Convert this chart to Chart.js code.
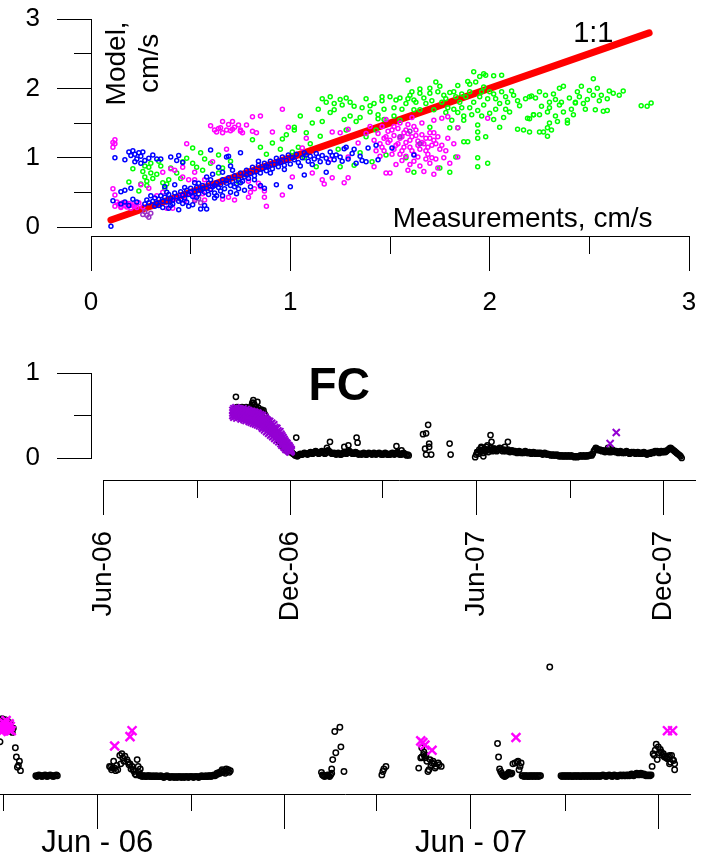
<!DOCTYPE html>
<html>
<head>
<meta charset="utf-8">
<title>Model vs measurements, FC</title>
<script src="https://cdn.jsdelivr.net/npm/chart.js@4.4.1/dist/chart.umd.min.js"></script>
<style>
  html, body { margin: 0; padding: 0; background: #fff; }
  #wrap { position: relative; width: 711px; height: 861px; overflow: hidden; }
  canvas { position: absolute; left: 0; }
</style>
</head>
<body>
<div id="wrap">
  <canvas id="scatter" width="711" height="330" style="top:0"></canvas>
  <canvas id="fc" width="711" height="310" style="top:330px"></canvas>
  <canvas id="site" width="711" height="221" style="top:640px"></canvas>
</div>
<script>
// ---------- top panel: model vs measurements (cm/s) ----------
const oneToOne = [[0.1, 0.1], [2.8, 2.8]];

const greenPts = [
  [0.19,0.65],[0.21,0.84],[0.24,0.52],[0.25,0.62],[0.26,0.80],[0.27,0.72],[0.27,0.88],[0.28,0.66],[0.28,0.60],[0.29,0.86],
  [0.30,0.78],[0.30,0.92],[0.31,0.70],[0.33,0.76],[0.34,0.95],[0.35,0.88],[0.36,0.64],[0.37,0.55],[0.38,0.62],[0.39,0.68],
  [0.40,0.85],[0.43,0.78],[0.45,0.70],[0.46,0.94],[0.48,0.99],[0.51,0.92],[0.51,1.14],[0.53,0.86],[0.55,1.07],[0.56,0.82],
  [0.57,0.98],[0.60,0.92],[0.64,1.04],[0.64,0.78],[0.66,0.85],[0.70,0.95],[0.74,0.65],
  [0.81,1.26],[0.85,1.15],[0.88,1.05],[0.91,1.21],[0.95,1.12],[0.96,1.27],[0.98,1.33],[1.01,1.08],[1.02,1.40],[1.02,1.44],
  [1.04,1.15],[1.05,1.60],[1.07,1.00],[1.08,1.36],[1.10,1.20],[1.11,1.50],[1.13,0.87],[1.14,1.70],[1.15,1.31],[1.16,1.52],
  [1.16,1.85],[1.18,1.80],[1.20,1.88],[1.20,1.65],[1.22,1.78],[1.22,1.69],[1.24,1.12],[1.25,1.84],[1.25,0.87],[1.26,1.76],
  [1.27,1.55],[1.28,1.86],[1.28,1.40],[1.30,1.80],[1.30,1.60],[1.32,1.74],[1.32,0.89],[1.33,1.52],[1.35,1.58],[1.35,1.07],
  [1.36,1.72],[1.38,1.85],[1.38,1.30],[1.40,1.66],[1.41,0.94],[1.42,1.78],[1.43,1.40],[1.44,1.56],[1.46,1.88],[1.47,1.70],
  [1.48,1.04],[1.46,1.82],[1.47,1.55],[1.50,1.88],[1.52,1.60],[1.53,1.83],[1.55,1.54],[1.56,1.70],[1.58,1.78],[1.58,1.00],
  [1.59,1.85],[1.59,2.12],[1.61,1.95],[1.62,1.83],[1.62,1.69],[1.62,0.79],[1.65,1.99],[1.65,1.93],[1.65,1.69],[1.68,1.78],
  [1.70,1.93],[1.70,2.00],[1.70,1.44],[1.72,1.69],[1.73,2.09],[1.75,2.03],[1.75,0.85],[1.76,1.80],[1.77,1.90],[1.79,1.72],
  [1.80,1.94],[1.80,1.43],[1.80,0.79],[1.81,1.54],[1.83,1.88],[1.83,1.01],[1.84,2.04],[1.84,1.65],[1.84,1.43],[1.86,1.92],
  [1.86,1.72],[1.87,1.60],[1.87,1.54],[1.87,1.23],[1.89,2.10],[1.89,1.23],[1.90,2.06],[1.91,1.62],[1.92,2.24],[1.93,2.09],
  [1.94,1.68],[1.94,1.47],[1.94,1.37],[1.94,1.28],[1.94,1.00],[1.94,0.87],[1.95,2.17],[1.96,1.95],[1.97,2.21],[1.97,1.76],
  [1.98,2.19],[1.98,1.30],[1.99,1.85],[1.99,0.92],[2.00,1.64],[2.02,2.18],[2.02,1.92],[2.03,1.70],[2.05,1.78],[2.05,1.44],
  [2.06,2.19],[2.07,1.58],[2.08,1.88],[2.10,1.66],[2.11,1.96],[2.14,1.82],[2.14,1.41],[2.17,1.40],[2.19,1.57],[2.20,1.88],
  [2.20,1.56],[2.20,1.37],[2.21,1.89],[2.22,1.62],[2.22,1.62],[2.23,1.86],[2.25,1.95],[2.25,1.62],[2.25,1.37],[2.26,1.74],
  [2.27,1.37],[2.28,1.90],[2.29,1.66],[2.29,1.43],[2.29,1.31],[2.30,1.80],[2.30,1.50],[2.31,1.40],[2.32,1.92],[2.33,1.84],
  [2.34,1.52],[2.35,2.00],[2.35,1.76],[2.37,2.03],[2.37,1.66],[2.39,1.54],[2.39,1.50],[2.40,1.86],[2.41,1.70],[2.43,1.80],
  [2.43,1.79],[2.44,1.95],[2.45,1.88],[2.46,2.03],[2.48,1.70],[2.49,1.84],[2.50,1.97],[2.52,2.14],[2.52,1.90],[2.53,1.69],
  [2.54,2.00],[2.55,1.82],[2.57,1.67],[2.59,1.85],[2.59,1.68],[2.60,1.96],[2.62,1.93],[2.65,1.90],[2.67,1.96],[2.76,1.75],
  [2.79,1.74],[2.81,1.79],
  [1.60,1.90],[1.63,1.80],[1.67,1.86],[1.71,1.82],[1.74,1.95],[1.78,1.85],[1.82,1.95],[1.85,1.80],[1.88,1.88],[1.90,1.95],
  [1.92,1.80],[1.95,1.88],[1.97,2.02],[2.00,1.95],[2.03,1.85],[2.06,1.95],[2.09,1.80],[2.12,1.90],[2.15,1.75],[2.18,1.85],
  [1.78,1.65],[1.82,1.70],[1.90,1.72],[1.96,1.60],[2.02,1.55],[2.08,1.70],[1.52,1.72],[1.55,1.86],[1.40,1.75],[1.44,1.62],
  [2.30,1.72],[2.36,1.80],[2.42,1.62],[2.47,1.78],[2.56,1.90],[2.33,1.60]
];

const magentaPts = [
  [0.11,1.15],[0.12,1.20],[0.12,1.26],[0.11,1.22],[0.11,0.55],[0.12,0.46],[0.12,0.30],[0.13,0.36],[0.14,0.33],[0.15,0.28],
  [0.16,0.35],[0.17,0.31],[0.18,0.29],[0.19,0.34],[0.20,0.27],[0.21,0.32],[0.22,0.30],[0.23,0.28],[0.24,0.35],[0.26,0.29],
  [0.25,0.61],[0.29,0.56],[0.33,0.45],[0.36,0.50],[0.36,0.79],[0.38,0.27],[0.40,0.84],[0.41,0.27],[0.42,0.82],[0.42,0.40],
  [0.45,0.45],[0.46,0.72],[0.46,0.86],[0.47,0.38],[0.48,1.20],[0.49,0.68],[0.50,0.48],[0.52,0.79],[0.52,0.68],[0.52,0.42],
  [0.52,0.39],[0.56,0.48],[0.57,0.68],[0.57,0.39],[0.60,1.46],[0.60,0.55],[0.61,0.94],[0.63,1.37],[0.64,1.42],[0.66,1.36],
  [0.66,1.52],[0.66,0.40],[0.68,1.40],[0.68,1.12],[0.69,1.48],[0.69,0.43],[0.70,1.39],[0.71,1.52],[0.72,1.44],[0.72,0.39],
  [0.74,1.47],[0.75,1.40],[0.75,1.38],[0.76,1.36],[0.78,1.47],[0.79,0.66],[0.79,0.43],[0.80,0.50],[0.81,1.59],[0.81,1.38],
  [0.82,0.55],[0.83,1.36],[0.84,0.63],[0.85,1.60],[0.85,0.58],[0.87,0.52],[0.87,0.43],[0.88,0.30],[0.91,1.37],[0.96,1.70],
  [0.96,0.46],[0.99,1.44],[1.01,0.72],[1.06,1.14],[1.08,1.28],[1.11,0.78],[1.16,0.68],[1.17,0.62],[1.20,0.97],[1.21,1.37],
  [1.21,0.71],[1.25,1.36],[1.27,0.64],[1.29,1.41],[1.29,1.01],[1.29,0.71],[1.34,1.21],[1.38,1.35],[1.40,1.45],[1.42,1.25],
  [1.42,0.87],[1.44,1.35],[1.45,1.20],[1.45,1.02],[1.46,1.45],[1.47,1.10],[1.48,1.30],[1.48,1.55],[1.48,0.78],[1.49,1.38],
  [1.50,1.25],[1.50,0.78],[1.51,1.05],[1.52,1.32],[1.53,1.18],[1.53,0.90],[1.54,1.42],[1.55,1.28],[1.55,1.50],[1.56,1.10],
  [1.56,0.96],[1.57,1.36],[1.58,1.22],[1.58,1.02],[1.59,1.48],[1.59,0.82],[1.60,1.15],[1.61,1.30],[1.61,1.58],[1.62,1.05],
  [1.62,0.95],[1.63,1.40],[1.64,1.24],[1.64,1.01],[1.65,1.12],[1.65,0.88],[1.66,1.33],[1.66,1.50],[1.67,1.20],[1.67,0.80],
  [1.68,1.28],[1.69,1.05],[1.69,1.15],[1.70,1.36],[1.70,0.92],[1.71,1.18],[1.72,1.25],[1.72,1.36],[1.72,1.54],[1.72,0.76],
  [1.73,0.98],[1.74,1.30],[1.74,0.85],[1.76,1.18],[1.76,1.57],[1.77,1.00],[1.78,1.10],[1.79,1.28],[1.79,1.59],[1.80,0.92],
  [1.82,1.20],[1.84,1.01],[1.84,1.43],[1.99,1.57],
  [1.46,1.15],[1.49,1.22],[1.51,1.40],[1.52,1.12],[1.54,1.20],[1.56,1.30],[1.57,1.15],[1.59,1.35],[1.60,1.25],[1.61,1.10],
  [1.63,1.32],[1.64,1.18],[1.66,1.22],[1.68,1.10],[1.70,1.28],[1.71,1.00],[1.73,1.20],[1.75,1.12],[1.52,1.45],[1.58,1.40],
  [1.62,1.45],[1.47,1.28],[1.55,1.05],[1.68,0.98],[1.60,0.90],[1.43,1.10],[0.15,0.30],[0.18,0.34],[0.20,0.31],[0.65,1.43],
  [0.71,1.41],[0.62,1.40]
];

const purplePts = [
  [0.26,0.18],[0.27,0.22],[0.28,0.17],[0.29,0.14],[0.30,0.20],[0.52,0.38],[0.54,0.41],[0.55,0.35],[1.55,1.30],[1.60,1.38],[1.65,1.20]
];

const bluePts = [
  [0.10,0.01],[0.11,0.38],[0.12,1.00],[0.15,0.51],[0.15,0.33],[0.17,0.53],[0.17,0.36],[0.17,0.97],[0.19,1.08],[0.19,0.31],
  [0.20,1.03],[0.20,0.56],[0.21,1.10],[0.21,0.40],[0.22,1.05],[0.22,0.94],[0.23,0.98],[0.23,0.36],[0.24,1.07],[0.25,1.02],
  [0.25,0.92],[0.26,1.08],[0.27,0.96],[0.29,0.99],[0.31,1.04],[0.33,0.98],[0.35,0.98],[0.40,1.01],[0.43,0.96],[0.44,1.03],
  [0.46,0.93],[0.60,1.11],[0.68,1.01],[0.69,1.02],[0.75,1.07],
  [0.27,0.33],[0.28,0.39],[0.29,0.35],[0.31,0.37],[0.32,0.42],[0.32,0.30],[0.33,0.34],[0.34,0.40],[0.35,0.45],[0.36,0.37],
  [0.36,0.28],[0.37,0.43],[0.37,0.58],[0.38,0.36],[0.39,0.47],[0.40,0.41],[0.40,0.31],[0.41,0.39],[0.42,0.49],[0.42,0.61],
  [0.43,0.44],[0.44,0.37],[0.44,0.25],[0.45,0.51],[0.46,0.46],[0.46,0.34],[0.47,0.42],[0.48,0.53],[0.49,0.47],[0.49,0.30],
  [0.50,0.56],[0.51,0.44],[0.51,0.32],[0.52,0.51],[0.53,0.57],[0.54,0.48],[0.54,0.63],[0.55,0.53],[0.55,0.26],[0.56,0.60],
  [0.57,0.50],[0.58,0.56],[0.58,0.26],[0.58,0.72],[0.59,0.63],[0.60,0.54],[0.61,0.58],[0.61,0.76],[0.62,0.49],[0.62,0.42],
  [0.63,0.64],[0.64,0.57],[0.64,0.86],[0.65,0.61],[0.66,0.68],[0.66,0.79],[0.66,0.45],[0.67,0.55],[0.68,0.63],[0.69,0.71],
  [0.70,0.60],[0.70,0.50],[0.70,0.88],[0.71,0.66],[0.71,0.82],[0.72,0.74],[0.73,0.62],[0.74,0.69],[0.74,0.55],[0.75,0.78],
  [0.76,0.66],[0.77,0.72],[0.77,0.53],[0.78,0.82],[0.79,0.70],[0.80,0.77],[0.80,0.58],[0.81,0.86],[0.82,0.74],[0.83,0.80],
  [0.84,0.89],[0.85,0.78],[0.85,0.60],[0.86,0.84],[0.87,0.92],[0.87,0.56],[0.88,0.81],[0.89,0.87],[0.90,0.95],[0.91,0.84],
  [0.92,0.90],[0.93,0.99],[0.93,0.61],[0.94,0.87],[0.95,0.93],[0.96,1.01],[0.97,0.89],[0.98,0.96],[0.99,1.04],[1.00,0.91],
  [1.00,0.58],[1.02,0.97],[1.03,1.05],[1.04,0.93],[1.06,1.00],[1.07,1.07],[1.07,0.75],[1.09,0.95],[1.10,1.02],[1.12,0.98],
  [1.13,1.06],[1.15,0.94],[1.16,1.03],[1.18,0.99],[1.18,0.79],[1.20,1.08],[1.22,0.97],[1.23,1.04],[1.25,1.01],[1.27,1.13],
  [1.28,1.15],[1.29,0.98],[1.31,1.06],[1.32,1.12],[1.33,0.92],[1.35,1.02],[1.36,0.96],[1.38,0.94],[1.39,1.14],[1.43,1.18],
  [1.44,0.97],[1.51,1.14],[1.62,1.04],
  [0.30,0.45],[0.34,0.31],[0.38,0.50],[0.41,0.33],[0.45,0.40],[0.48,0.36],[0.50,0.50],[0.53,0.43],[0.56,0.55],[0.59,0.47],
  [0.62,0.60],[0.65,0.52],[0.68,0.67],[0.72,0.58],[0.75,0.64],[0.78,0.75],[0.82,0.68],[0.84,0.95],[0.88,0.88],[0.90,0.78],
  [0.94,0.95],[0.97,0.83],[1.01,1.00],[1.05,0.88],[1.08,1.04],[1.11,0.90],[1.14,1.01],[1.19,0.93],[1.21,1.03],[1.26,0.95],
  [0.47,0.57],[0.52,0.64],[0.60,0.68],[0.63,0.45],[0.39,0.27],[0.57,0.31],[0.73,0.48]
];

// ---------- middle panel: FC ----------
const fcMajorTicks = ['2006-06-01', '2006-12-01', '2007-06-01', '2007-12-01'];
const fcMajorLabels = ['Jun-06', 'Dec-06', 'Jun-07', 'Dec-07'];
const fcMinorTicks = ['2006-09-01', '2007-03-01', '2007-09-01'];

const fcModelStartA = '2006-10-08';
const fcModelA = [
  0.58,0.72,0.60,0.57,0.59,0.56,0.58,0.60,0.57,0.55,0.58,0.60,0.59,0.57,0.56,0.58,0.61,0.65,0.68,0.63,0.60,0.58,0.57,0.59,
  0.56,0.55,0.57,0.54,0.56,0.52,0.50,0.47,0.44,0.45,0.41,0.38,0.36,0.33,0.31,0.30,0.27,0.25,0.22,0.20,0.19,0.17,0.15,0.14,0.12,0.11,0.10,0.09,0.08,0.09,
  0.07,0.08,0.06,0.05,0.04,0.03,0.03,0.02,0.03,0.04,0.05,0.04,0.04,0.05,0.06,0.05,0.05,0.04,0.05,0.06,0.07,0.06,0.05,0.06,0.07,0.08,0.07,0.06,0.05,0.06,0.07,
  0.08,0.07,0.06,0.05,0.06,0.08,0.09,0.08,0.07,0.06,0.05,0.05,0.06,0.05,0.04,0.05,0.06,0.05,0.04,0.04,0.05,0.06,0.07,0.06,0.05,0.06,0.07,0.08,0.07,0.06,0.05,
  0.05,0.06,0.07,0.06,0.05,0.04,0.05,0.05,0.04,0.05,0.06,0.05,0.04,0.04,0.05,0.06,0.05,0.05,0.04,0.05,0.06,0.05,0.04,0.05,0.05,0.06,0.05,0.04,
  0.05,0.04,0.05,0.06,0.05,0.04,0.04,0.05,0.04,0.05,0.06,0.05,0.04,0.05,0.06,0.07,0.05,0.04,0.05,0.04,0.05,0.06,0.05,0.04,0.03,0.04,0.03
];
const fcModelStartB = '2007-06-01';
const fcModelB = [
  0.04,0.07,0.05,0.10,0.08,0.12,0.09,0.06,0.11,0.08,0.13,0.10,0.07,0.09,0.12,0.10,0.08,0.09,0.11,0.10,0.08,0.09,0.10,0.12,0.11,0.09,0.08,0.10,0.09,0.08,
  0.09,0.10,0.08,0.07,0.08,0.09,0.08,0.07,0.08,0.07,0.06,0.07,0.08,0.07,0.06,0.07,0.06,0.07,0.08,0.07,0.06,0.06,0.07,0.06,0.05,0.06,0.07,0.06,0.05,0.06,0.05,
  0.06,0.05,0.06,0.05,0.04,0.05,0.06,0.05,0.04,0.05,0.04,0.04,0.03,0.04,0.03,0.04,0.03,0.03,0.04,0.03,0.02,0.03,0.02,0.03,0.02,0.02,0.03,0.02,0.02,0.03,0.02,
  0.02,0.03,0.02,0.02,0.01,0.02,0.02,0.01,0.02,0.02,0.03,0.02,0.02,0.03,0.02,0.02,0.03,0.02,0.03,0.03,0.04,0.03,0.05,0.08,0.10,0.12,0.11,0.10,0.09,0.10,
  0.09,0.08,0.09,0.08,0.07,0.08,0.09,0.08,0.07,0.08,0.07,0.08,0.09,0.08,0.07,0.08,0.07,0.06,0.07,0.08,0.07,0.06,0.07,0.06,0.07,0.08,0.07,0.06,0.05,0.06,0.07,
  0.06,0.07,0.06,0.05,0.06,0.07,0.06,0.05,0.06,0.05,0.06,0.07,0.06,0.05,0.04,0.05,0.06,0.05,0.06,0.07,0.06,0.07,0.08,0.07,0.08,0.07,0.06,0.07,0.08,0.07,
  0.07,0.08,0.07,0.08,0.09,0.10,0.11,0.12,0.11,0.10,0.09,0.08,0.07,0.06,0.05,0.04,0.03,0.02,0.00
];
const fcModelExtra = [
  ['2006-10-26',0.65],['2006-10-30',0.66],['2006-12-07',0.24],['2007-01-06',0.12],['2007-01-09',0.19],['2007-01-23',0.13],
  ['2007-01-27',0.15],['2007-02-04',0.24],['2007-02-05',0.18],['2007-03-15',0.14],['2007-03-20',0.09],
  ['2007-04-10',0.28],['2007-04-12',0.11],['2007-04-13',0.29],['2007-04-13',0.04],['2007-04-15',0.39],['2007-04-16',0.17],
  ['2007-04-16',0.13],['2007-04-18',0.04],['2007-05-06',0.17],['2007-05-07',0.04],
  ['2007-05-31',0.01],['2007-06-02',0.07],['2007-06-06',0.13],['2007-06-08',0.02],['2007-06-09',0.09],['2007-06-12',0.15],
  ['2007-06-15',0.27],['2007-06-16',0.19],['2007-06-18',0.11],['2007-06-29',0.13],['2007-07-02',0.19],
  ['2007-10-08',0.12],['2007-10-12',0.10]
];
const fcModelOutlier = [['2007-03-05', -1.19]];

const fcObsStart = '2006-10-06';
const fcObsHigh = [
  0.56,0.58,0.57,0.59,0.56,0.57,0.58,0.56,0.57,0.55,0.58,0.56,0.55,0.57,0.54,0.56,0.55,0.53,0.55,0.54,0.52,0.54,0.53,0.51,0.53,0.52,
  0.50,0.51,0.49,0.50,0.47,0.48,0.46,0.45,0.44,0.42,0.43,0.40,0.41,0.38,0.39,0.36,0.34,0.35,0.32,0.30,0.31,0.28,0.26,0.24,0.22,0.20,0.18,0.17,0.15,0.14,
  0.12,0.10
];
const fcObsMid = [
  0.53,0.54,0.52,0.55,0.51,0.53,0.54,0.52,0.51,0.52,0.53,0.50,0.51,0.52,0.49,0.51,0.50,0.48,0.49,0.50,0.47,0.48,0.47,0.46,0.47,0.46,
  0.44,0.45,0.43,0.42,0.41,0.40,0.41,0.38,0.37,0.36,0.37,0.34,0.35,0.32,0.33,0.30,0.29,0.28,0.27,0.25,0.26,0.23,0.21,0.20,0.18,0.16,0.14,0.14,0.12,0.11,
  0.10,0.09
];
const fcObsLow = [
  0.50,0.48,0.51,0.49,0.47,0.50,0.48,0.49,0.46,0.48,0.47,0.45,0.47,0.44,0.46,0.45,0.43,0.44,0.42,0.44,0.41,0.43,0.40,0.42,0.39,0.41,
  0.38,0.40,0.37,0.35,0.36,0.33,0.35,0.31,0.32,0.29,0.30,0.27,0.28,0.25,0.26,0.23,0.24,0.21,0.22,0.19,0.20,0.17,0.15,0.16,0.13,0.12,0.10,0.11,0.09,0.08,
  0.07,0.08
];
const fcObsExtra = [['2007-10-10', 0.17], ['2007-10-16', 0.30]];

// ---------- bottom panel ----------
const siteMajorTicks = ['2006-06-01', '2006-12-01', '2007-06-01', '2007-12-01'];
const siteMajorLabels = ['Jun - 06', '', 'Jun - 07', ''];
const siteMinorTicks = ['2006-03-01', '2006-09-01', '2007-03-01', '2007-09-01'];

const siteModelPts = [
  ['2006-02-26',0.45],['2006-02-26',0.70],['2006-02-27',0.66],['2006-02-28',0.72],['2006-03-01',0.63],['2006-03-02',0.68],
  ['2006-03-03',0.71],['2006-03-04',0.65],['2006-03-05',0.70],['2006-03-06',0.58],['2006-03-07',0.62],['2006-03-08',0.67],
  ['2006-03-09',0.60],['2006-03-10',0.56],['2006-03-11',0.61],['2006-03-13',0.38],['2006-03-14',0.27],['2006-03-15',0.15],
  ['2006-03-16',0.17],['2006-03-17',0.22],['2006-03-18',0.11],
  ['2006-06-13',0.16],['2006-06-14',0.15],['2006-06-15',0.12],['2006-06-16',0.14],['2006-06-17',0.22],['2006-06-18',0.14],
  ['2006-06-19',0.11],['2006-06-20',0.17],['2006-06-21',0.12],['2006-06-23',0.29],['2006-06-24',0.19],['2006-06-25',0.31],
  ['2006-06-26',0.26],['2006-06-27',0.22],['2006-06-28',0.28],['2006-06-30',0.24],['2006-07-01',0.21],['2006-07-02',0.18],
  ['2006-07-03',0.19],['2006-07-04',0.13],['2006-07-05',0.16],['2006-07-06',0.12],['2006-07-07',0.10],['2006-07-08',0.07],
  ['2006-07-09',0.06],['2006-07-10',0.24],['2006-07-11',0.16],['2006-07-12',0.09],['2006-07-13',0.13],
  ['2007-01-06',0.09],['2007-01-07',0.06],['2007-01-08',0.05],['2007-01-09',0.04],['2007-01-10',0.05],['2007-01-11',0.05],
  ['2007-01-12',0.06],['2007-01-13',0.05],['2007-01-14',0.04],['2007-01-15',0.06],['2007-01-16',0.08],['2007-01-16',0.13],
  ['2007-01-17',0.24],['2007-01-19',0.57],['2007-01-20',0.32],['2007-01-24',0.62],['2007-01-25',0.39],['2007-01-28',0.10],
  ['2007-03-06',0.06],['2007-03-07',0.10],['2007-03-08',0.13],['2007-03-10',0.16],
  ['2007-04-11',0.14],['2007-04-13',0.26],['2007-04-14',0.38],['2007-04-14',0.27],['2007-04-16',0.33],['2007-04-16',0.30],
  ['2007-04-17',0.26],['2007-04-18',0.29],['2007-04-19',0.22],['2007-04-20',0.10],['2007-04-21',0.12],['2007-04-22',0.24],
  ['2007-04-23',0.17],['2007-04-24',0.20],['2007-04-25',0.22],['2007-04-26',0.19],['2007-04-27',0.14],['2007-04-28',0.16],
  ['2007-04-30',0.20],['2007-05-01',0.18],['2007-05-03',0.16],
  ['2007-06-27',0.43],['2007-06-28',0.27],['2007-06-29',0.13],['2007-06-30',0.10],['2007-07-01',0.08],['2007-07-02',0.06],
  ['2007-07-03',0.05],['2007-07-04',0.04],['2007-07-05',0.05],['2007-07-06',0.06],['2007-07-07',0.07],['2007-07-08',0.09],
  ['2007-07-09',0.08],['2007-07-10',0.07],['2007-07-11',0.08],['2007-07-12',0.19],['2007-07-14',0.20],['2007-07-16',0.21],
  ['2007-07-17',0.22],['2007-07-18',0.12],['2007-07-19',0.16],['2007-07-20',0.20],
  ['2007-08-17',1.33],
  ['2007-11-25',0.16],['2007-11-26',0.31],['2007-11-27',0.29],['2007-11-28',0.35],['2007-11-29',0.42],['2007-11-30',0.24],
  ['2007-12-01',0.39],['2007-12-02',0.32],['2007-12-03',0.36],['2007-12-04',0.33],['2007-12-05',0.29],['2007-12-06',0.31],
  ['2007-12-07',0.27],['2007-12-08',0.28],['2007-12-09',0.26],['2007-12-10',0.25],['2007-12-11',0.27],['2007-12-12',0.29],
  ['2007-12-12',0.19],['2007-12-13',0.21],['2007-12-14',0.29],['2007-12-15',0.24],['2007-12-16',0.23],['2007-12-17',0.19],
  ['2007-12-17',0.12]
];
const siteRunApr06Start = '2006-04-02';
const siteRunApr06 = [0.05,0.04,0.05,0.06,0.05,0.05,0.04,0.05,0.05,0.06,0.05,0.04,0.05,0.05,0.06,0.05,0.05,0.04,0.05,0.05,0.06,0.05];
const siteRunJul06Start = '2006-07-12';
const siteRunJul06 = [
  0.06,0.05,0.05,0.04,0.05,0.05,0.04,0.04,0.05,0.05,0.04,0.05,0.04,0.04,0.05,0.04,0.04,0.05,0.04,0.04,
  0.04,0.05,0.04,0.04,0.03,0.04,0.04,0.05,0.04,0.04,0.03,0.04,0.04,0.04,0.03,0.04,0.04,0.03,0.04,0.04,0.04,0.03,0.04,0.04,0.03,0.04,0.04,0.04,0.03,0.04,0.04,
  0.04,0.04,0.03,0.04,0.04,0.04,0.04,0.03,0.04,0.04,0.05,0.04,0.04,0.04,0.05,0.04,0.04,0.05,0.05,0.04,0.05,0.05,0.06,0.05,0.06,0.08,0.07,0.09,0.08,0.10,
  0.12,0.09,0.11,0.08,0.13,0.10,0.12,0.09,0.11
];
const siteRunJul07Start = '2007-07-21';
const siteRunJul07 = [0.05,0.05,0.04,0.05,0.05,0.04,0.05,0.04,0.05,0.05,0.04,0.05,0.05,0.04,0.05,0.05,0.04,0.05,0.05];
const siteRunAug07Start = '2007-08-28';
const siteRunAug07 = [
  0.05,0.04,0.05,0.05,
  0.04,0.05,0.05,0.04,0.05,0.05,0.04,0.05,0.04,0.05,0.05,0.04,0.05,0.05,0.04,0.05,0.04,0.05,0.05,0.04,0.05,0.05,0.04,0.05,0.05,0.04,0.05,0.05,0.04,0.05,
  0.05,0.04,0.05,0.05,0.04,0.05,0.05,0.06,0.05,0.05,0.04,0.05,0.05,0.06,0.05,0.05,0.04,0.05,0.06,0.05,0.05,0.04,0.05,0.05,0.06,0.05,0.05,0.06,0.05,0.05,0.06,
  0.05,0.06,0.05,0.06,0.07,0.06,0.05,0.06,0.07,0.08,0.07,0.06,0.07,0.08,0.07,0.06,0.07,0.06,0.05,0.06,0.05,0.06,0.05,0.06
];
const siteObsPts = [
  ['2006-02-26',0.60],['2006-02-27',0.64],['2006-02-27',0.57],['2006-02-28',0.62],['2006-03-01',0.68],['2006-03-01',0.58],
  ['2006-03-02',0.63],['2006-03-03',0.66],['2006-03-03',0.60],['2006-03-04',0.70],['2006-03-05',0.64],['2006-03-06',0.61],
  ['2006-03-07',0.66],['2006-03-07',0.59],['2006-03-08',0.63],['2006-03-09',0.58],
  ['2006-06-18',0.40],['2006-07-03',0.51],['2006-07-05',0.58],
  ['2007-04-13',0.46],['2007-04-15',0.44],['2007-04-17',0.41],['2007-04-24',0.35],
  ['2007-07-15',0.50],['2007-12-10',0.58],['2007-12-15',0.58]
];

// ---------- helpers ----------
const FONT = "'Liberation Sans', Arial, Helvetica, sans-serif";
const DAY = 86400000;
const t = d => Date.parse(d);
const xy = list => list.map(([x, y]) => ({ x, y }));
const dated = list => list.map(([d, v]) => ({ x: t(d), y: v }));
const daily = (start, vals) => vals.map((v, i) => ({ x: t(start) + i * DAY, y: v }));

Chart.defaults.color = '#000';
Chart.defaults.font.family = FONT;

const ring = (data, color, r, w) => ({
  data, pointStyle: 'circle', pointRadius: r, pointBorderWidth: w,
  pointBorderColor: color, pointBackgroundColor: 'rgba(0,0,0,0)', clip: false
});
const cross = (data, color, r, w) => ({
  data, pointStyle: 'crossRot', pointRadius: r, pointBorderWidth: w,
  pointBorderColor: color, clip: false
});

const zeroPad = s => { s.paddingLeft = s.paddingRight = s.paddingTop = s.paddingBottom = 0; };
const tickFont = size => ({ family: FONT, size, lineHeight: 1 });

// an R-style axis: long ticks with labels, plus a second scale for the short ones
function axisPair(axis, base, major, minor) {
  const grid = len => ({ drawOnChartArea: false, drawTicks: true, tickLength: len, color: '#000', lineWidth: 1 });
  return [
    Object.assign({ axis, grid: grid(34), border: { color: '#000', width: 1 } }, base, major,
      { ticks: Object.assign({ autoSkip: false, color: '#000' }, major.ticks) }),
    Object.assign({ axis, grid: grid(17), border: { display: false } }, base, minor,
      { ticks: Object.assign({ display: false }, minor.ticks) })
  ];
}

// y axis sits a few pixels left of the plotting region
const pinY = gap => ({
  id: 'pinY',
  afterLayout(chart) {
    const edge = chart.chartArea.left - gap;
    for (const id of ['y', 'y2']) {
      const s = chart.scales[id];
      const w = s.right - s.left;
      s.right = edge;
      s.left = edge - w;
    }
  }
});

const notes = items => ({
  id: 'notes',
  afterDraw(chart) {
    const { ctx, scales } = chart;
    for (const n of items) {
      ctx.save();
      ctx.font = n.font;
      ctx.fillStyle = '#000';
      ctx.textAlign = 'center';
      ctx.textBaseline = 'alphabetic';
      ctx.translate(scales.x.getPixelForValue(n.x), scales.y.getPixelForValue(n.y));
      if (n.rotate) ctx.rotate(n.rotate);
      ctx.fillText(n.text, 0, 0);
      ctx.restore();
    }
  }
});

const common = {
  responsive: false, animation: false, devicePixelRatio: 1, events: [],
  plugins: { legend: { display: false }, tooltip: { enabled: false } }
};

// ---------- top chart ----------
{
  const drop = -0.144;
  const [x, x2] = axisPair('x', { type: 'linear', min: 0, max: 3, position: { y: drop }, afterFit: zeroPad },
    { ticks: { stepSize: 1, maxRotation: 0, padding: 19, font: tickFont(26) } },
    { ticks: { stepSize: 0.5 } });
  const [y, y2] = axisPair('y', { type: 'linear', min: 0, max: 3, position: 'left' },
    { ticks: { stepSize: 1, padding: 17, font: tickFont(26) }, afterFit: s => { zeroPad(s); s.width = 91; } },
    { ticks: { stepSize: 0.5 }, afterFit: s => { zeroPad(s); s.width = 0; } });

  new Chart(document.getElementById('scatter'), {
    type: 'scatter',
    data: {
      datasets: [
        ring(xy(bluePts), '#0000ff', 2, 1.5),
        ring(xy(purplePts), '#9b30c8', 2, 1.5),
        ring(xy(magentaPts), '#ff00ff', 2, 1.5),
        ring(xy(greenPts), '#00ff00', 2, 1.5),
        { type: 'line', data: xy(oneToOne), showLine: true, borderColor: '#ff0000', borderWidth: 7,
          borderCapStyle: 'round', pointRadius: 0, clip: false }
      ]
    },
    options: Object.assign({}, common, {
      layout: { autoPadding: false, padding: { left: 0, top: 19, right: 22, bottom: 103 } },
      scales: { x, x2, y, y2 }
    }),
    plugins: [pinY(0), notes([
      { text: 'Model,', x: 0.171, y: 2.36, rotate: -Math.PI / 2, font: `28px ${FONT}` },
      { text: 'cm/s', x: 0.336, y: 2.36, rotate: -Math.PI / 2, font: `28px ${FONT}` },
      { text: 'Measurements, cm/s', x: 2.165, y: 0, font: `28px ${FONT}` },
      { text: '1:1', x: 2.52, y: 2.668, font: `29px ${FONT}` }
    ])]
  });
}

// ---------- FC chart ----------
{
  const drop = -0.27;
  const [x, x2] = axisPair('x', { type: 'linear', min: t('2006-06-01'), max: t('2008-01-01'), position: { y: drop }, afterFit: zeroPad },
    { afterBuildTicks: s => { s.ticks = fcMajorTicks.map(d => ({ value: t(d) })); },
      ticks: { callback: (v, i) => fcMajorLabels[i], minRotation: 90, maxRotation: 90, padding: 16, font: tickFont(28) } },
    { afterBuildTicks: s => { s.ticks = fcMinorTicks.map(d => ({ value: t(d) })); } });
  const [y, y2] = axisPair('y', { type: 'linear', min: 0, max: 1, position: 'left' },
    { ticks: { stepSize: 1, padding: 17, font: tickFont(26) }, afterFit: s => { zeroPad(s); s.width = 103; } },
    { ticks: { stepSize: 0.5 }, afterFit: s => { zeroPad(s); s.width = 0; } });

  new Chart(document.getElementById('fc'), {
    type: 'scatter',
    data: {
      datasets: [
        cross(dated(fcObsExtra), '#9400d3', 5, 2),
        cross(daily(fcObsStart, fcObsHigh), '#9400d3', 5, 2),
        cross(daily(fcObsStart, fcObsMid), '#9400d3', 5, 2),
        cross(daily(fcObsStart, fcObsLow), '#9400d3', 5, 2),
        ring(dated(fcModelExtra), '#000', 2.6, 1.5),
        ring(dated(fcModelOutlier), '#000', 2.2, 1.2),
        ring(daily(fcModelStartA, fcModelA), '#000', 2.6, 1.5),
        ring(daily(fcModelStartB, fcModelB), '#000', 2.6, 1.5)
      ]
    },
    options: Object.assign({}, common, {
      layout: { autoPadding: false, padding: { left: 0, top: 43, right: 16, bottom: 182 } },
      scales: { x, x2, y, y2 }
    }),
    plugins: [pinY(12), notes([
      { text: 'FC', x: t('2007-01-18'), y: 0.68, font: `bold 46px ${FONT}` }
    ])]
  });
}

// ---------- bottom chart ----------
{
  const drop = -0.165;
  const [x, x2] = axisPair('x', { type: 'linear', min: t('2006-02-26'), max: t('2008-01-01'), position: { y: drop }, afterFit: zeroPad },
    { afterBuildTicks: s => { s.ticks = siteMajorTicks.map(d => ({ value: t(d) })); },
      ticks: { callback: (v, i) => siteMajorLabels[i], maxRotation: 0, padding: 0, font: tickFont(31) } },
    { afterBuildTicks: s => { s.ticks = siteMinorTicks.map(d => ({ value: t(d) })); } });

  new Chart(document.getElementById('site'), {
    type: 'scatter',
    data: {
      datasets: [
        cross(dated(siteObsPts), '#ff00ff', 6.3, 2.4),
        ring(dated(siteModelPts), '#000', 2.7, 1.5),
        ring(daily(siteRunApr06Start, siteRunApr06), '#000', 2.7, 1.5),
        ring(daily(siteRunJul06Start, siteRunJul06), '#000', 2.7, 1.5),
        ring(daily(siteRunJul07Start, siteRunJul07), '#000', 2.7, 1.5),
        ring(daily(siteRunAug07Start, siteRunAug07), '#000', 2.7, 1.5)
      ]
    },
    options: Object.assign({}, common, {
      layout: { autoPadding: false, padding: { left: 0, top: 4, right: 21, bottom: 81 } },
      scales: {
        x, x2,
        y: { type: 'linear', min: 0, max: 1.6, display: false, afterFit: zeroPad }
      }
    })
  });
}
</script>
</body>
</html>
